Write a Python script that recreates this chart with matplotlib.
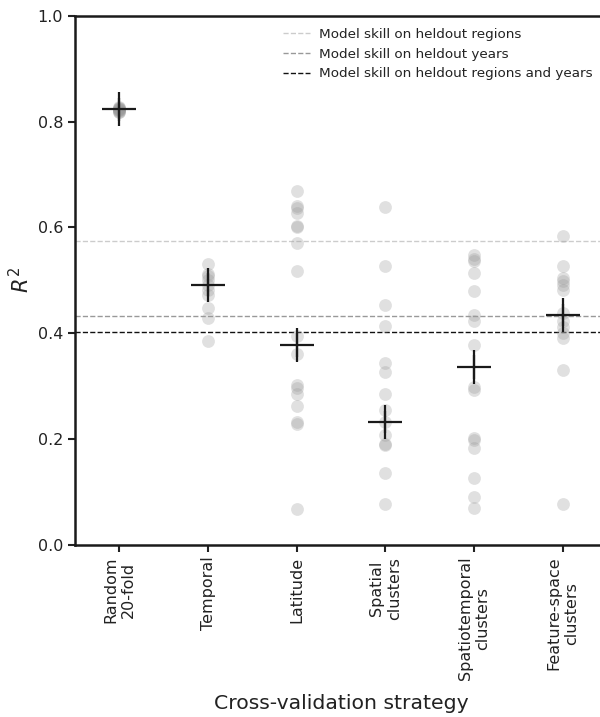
import numpy as np
import matplotlib
matplotlib.use("Agg")
import matplotlib.pyplot as plt

strategies = ["Random\n20-fold", "Temporal", "Latitude", "Spatial\nclusters",
              "Spatiotemporal\nclusters", "Feature-space\nclusters"]

# per-fold R^2 values
random_r2 = [0.818, 0.820, 0.822, 0.823, 0.824, 0.825, 0.826, 0.828, 0.821, 0.819]
temporal_r2 = [0.531, 0.512, 0.509, 0.500, 0.492, 0.482, 0.472, 0.448, 0.429, 0.386]
latitude_r2 = [0.668, 0.641, 0.637, 0.627, 0.603, 0.600, 0.570, 0.517, 0.394,
               0.361, 0.303, 0.296, 0.286, 0.262, 0.232, 0.228, 0.068]
spatial_r2 = [0.639, 0.527, 0.453, 0.413, 0.343, 0.326, 0.286, 0.255, 0.232,
              0.208, 0.191, 0.188, 0.135, 0.078]
spatiotemp_r2 = [0.547, 0.541, 0.536, 0.514, 0.480, 0.434, 0.424, 0.377, 0.299,
                 0.293, 0.203, 0.198, 0.184, 0.127, 0.090, 0.070]
feature_r2 = [0.583, 0.527, 0.505, 0.499, 0.492, 0.482, 0.438, 0.424, 0.411,
              0.401, 0.391, 0.330, 0.078]
fold_scores = [random_r2, temporal_r2, latitude_r2, spatial_r2, spatiotemp_r2, feature_r2]

# mean and error for each strategy
means = [0.823, 0.492, 0.378, 0.232, 0.336, 0.434]
errors = [0.021, 0.022, 0.022, 0.021, 0.022, 0.021]

# reference skill lines
skill_labels = ["Model skill on heldout regions", "Model skill on heldout years",
                "Model skill on heldout regions and years"]
skill_values = [0.575, 0.432, 0.403]
skill_colors = ["#cccccc", "#999999", "#111111"]

plt.rcParams["text.color"] = "#222222"
plt.rcParams["axes.labelcolor"] = "#222222"
plt.rcParams["xtick.color"] = "#222222"
plt.rcParams["ytick.color"] = "#222222"
plt.rcParams["axes.edgecolor"] = "#1a1a1a"

fig = plt.figure(figsize=(6, 7.17), dpi=100)
ax = fig.add_axes((0.125, 0.24, 0.887, 0.738))

## Fold points
for i, scores in enumerate(fold_scores):
    ax.scatter([i] * len(scores), scores, s=85, color="#9a9a9a", alpha=0.3,
               linewidths=0, zorder=2)

## Means with error bars
ax.errorbar(range(len(means)), means, yerr=errors, fmt="+", color="#1a1a1a",
            markersize=24, mew=1.6, elinewidth=1.6, capsize=0, zorder=3)

## Reference lines
for val, lab, col in zip(skill_values, skill_labels, skill_colors):
    ax.axhline(val, color=col, linestyle="--", linewidth=1.0, label=lab, zorder=1)

ax.set_xlim(-0.5, 5.5)
ax.set_ylim(0, 1.0)
ax.set_xticks(range(len(strategies)))
ax.set_xticklabels(strategies, rotation=90, fontsize=11.5, ha="center")
ax.set_yticks(np.arange(0, 1.01, 0.2))
ax.set_yticklabels(["%.1f" % t for t in np.arange(0, 1.01, 0.2)], fontsize=11.5)
ax.set_ylabel("$R^2$", fontsize=15, labelpad=3)
ax.set_xlabel("Cross-validation strategy", fontsize=14.7, labelpad=10)

for side in ["left", "bottom", "top", "right"]:
    ax.spines[side].set_linewidth(1.8)
ax.tick_params(width=1.5, length=5)

ax.legend(loc="upper right", bbox_to_anchor=(0.996, 1.0), frameon=False,
          fontsize=9.7, handlelength=2.0, handletextpad=0.7)

plt.savefig("out.png", dpi=100)
